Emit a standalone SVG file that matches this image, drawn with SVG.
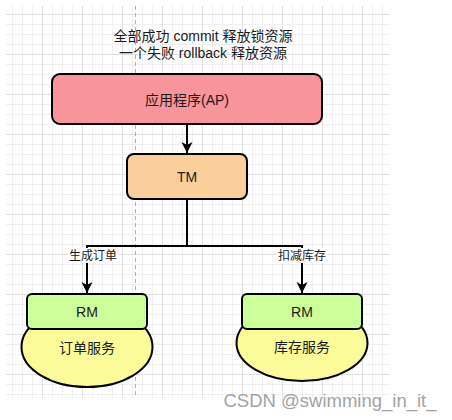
<svg xmlns="http://www.w3.org/2000/svg" width="452" height="420" viewBox="0 0 452 420">
<defs>
<pattern id="grid" patternUnits="userSpaceOnUse" x="2" y="14" width="40" height="40">
<path d="M10.5,0V40M20.5,0V40M30.5,0V40M0,10.5H40M0,20.5H40M0,30.5H40" stroke="#f0f0f0" stroke-width="1" fill="none"/>
<path d="M0.5,0V40M0,0.5H40" stroke="#e0e0e0" stroke-width="1" fill="none"/>
</pattern>
<marker id="arr" viewBox="0 0 12 12" refX="11" refY="6" markerWidth="12" markerHeight="12" markerUnits="userSpaceOnUse" orient="auto">
<path d="M0,0.5 L11,6 L0,11.5 L3,6 z" fill="#000"/>
</marker>
<style>
text{font-family:"Liberation Sans","Noto Sans CJK SC",sans-serif;fill:#1a1a1a;text-anchor:middle;dominant-baseline:central}
.t14{font-size:14px}
.t12{font-size:12px}
.box{stroke:#000;stroke-width:2}
.edge{stroke:#000;stroke-width:2;fill:none}
</style>
</defs>
<rect width="452" height="420" fill="#fff"/>
<rect x="6" y="6" width="384" height="392" fill="url(#grid)"/>
<line x1="135.5" y1="6" x2="135.5" y2="398" stroke="#b0b0b0" stroke-width="1" stroke-dasharray="4,3"/>

<g id="title">
<text class="t14" x="203" y="36">全部成功 commit 释放锁资源</text>
<text class="t14" x="203" y="53">一个失败 rollback 释放资源</text>
</g>

<g id="connectors">
<line class="edge" x1="187" y1="124" x2="187" y2="153" marker-end="url(#arr)"/>
<polyline class="edge" points="187,199 187,246"/>
<line class="edge" x1="86" y1="246" x2="303" y2="246"/>
<line class="edge" x1="87" y1="246" x2="87" y2="293" marker-end="url(#arr)"/>
<line class="edge" x1="302" y1="246" x2="302" y2="293" marker-end="url(#arr)"/>
<rect x="68" y="248" width="50" height="15" fill="#fff"/>
<text class="t12" x="93" y="255.5">生成订单</text>
<rect x="277" y="248" width="50" height="15" fill="#fff"/>
<text class="t12" x="302" y="255.5">扣减库存</text>
</g>

<g id="ap">
<rect class="box" x="52" y="74" width="270" height="50" rx="8" fill="#f8949b"/>
<text class="t14" x="187" y="100">应用程序(AP)</text>
</g>

<g id="tm">
<rect class="box" x="127" y="154" width="120" height="45" rx="7" fill="#facf9c"/>
<text class="t14" x="187" y="177">TM</text>
</g>

<g id="order-service">
<ellipse class="box" cx="87" cy="347" rx="65.5" ry="40" fill="#fbfb99"/>
<rect class="box" x="27" y="294" width="120" height="35" rx="5" fill="#ccff99"/>
<text class="t14" x="87" y="312">RM</text>
<text class="t14" x="87" y="348">订单服务</text>
</g>

<g id="stock-service">
<ellipse class="box" cx="302" cy="343" rx="65.5" ry="38" fill="#fbfb99"/>
<rect class="box" x="242" y="294" width="120" height="35" rx="5" fill="#ccff99"/>
<text class="t14" x="302" y="312">RM</text>
<text class="t14" x="302" y="347">库存服务</text>
</g>

<text x="330" y="400" style="font-size:18.5px;fill:#a3a3a3">CSDN @swimming_in_it_</text>
</svg>
